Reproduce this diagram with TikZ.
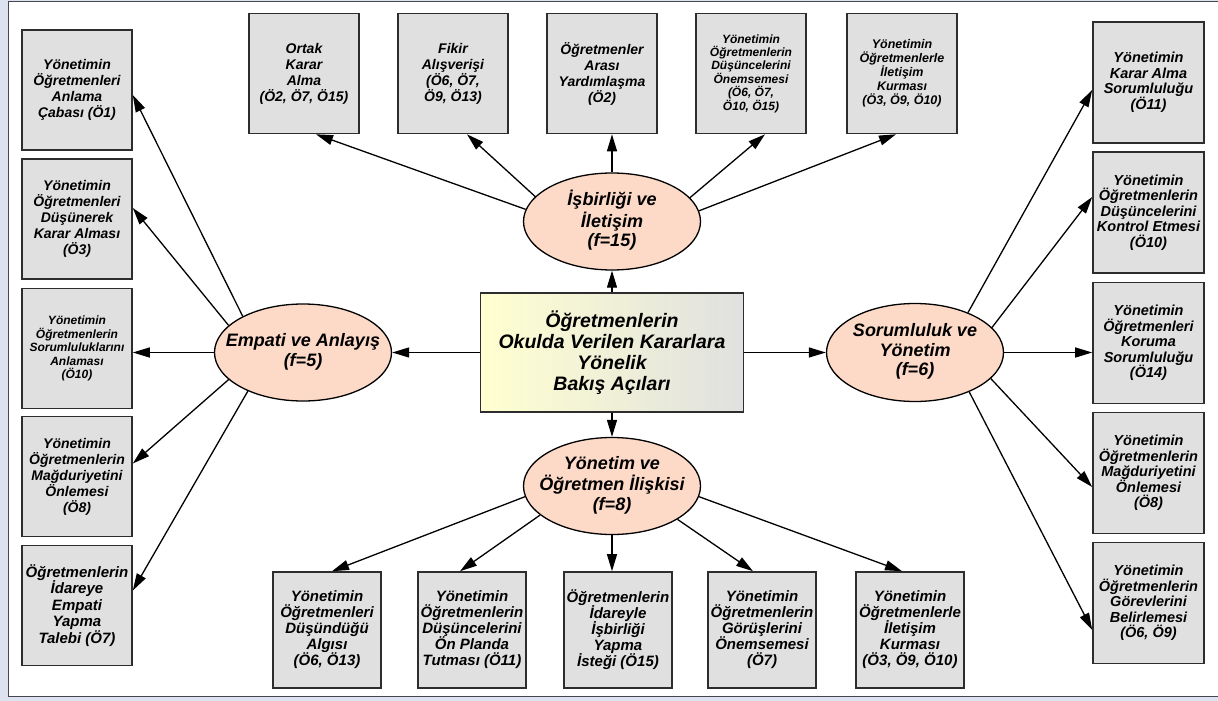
\documentclass[tikz,border=0pt]{standalone}
\usepackage{fontspec}
\setmainfont{Liberation Sans}
\usetikzlibrary{arrows.meta,shapes.geometric}
\definecolor{framebg}{RGB}{221,226,240}
\definecolor{frameline}{RGB}{70,70,80}
\definecolor{boxfill}{RGB}{224,224,224}
\definecolor{boxline}{RGB}{45,45,45}
\definecolor{peach}{RGB}{253,218,200}
\definecolor{centerL}{RGB}{255,255,208}
\definecolor{centerR}{RGB}{224,224,224}
\newcommand{\fs}[2]{\fontsize{#1}{#2}\selectfont}
% centred lines in a zero-width box, so that the ellipse keeps its set size
\newcommand{\etext}[1]{\makebox[0pt]{\begin{tabular}{@{}c@{}}#1\end{tabular}}}
\begin{document}
\begin{tikzpicture}[x=1pt,y=-1pt,
  box/.style={draw=boxline, line width=1.6pt, fill=boxfill, minimum width=110pt,
    minimum height=120pt, inner sep=0pt, align=center,
    font=\bfseries\itshape\fs{14}{16}},
  bbox/.style={box, minimum width=108pt, minimum height=116pt, font=\bfseries\itshape\fs{15}{16}},
  rbox/.style={box, minimum width=111pt, minimum height=121pt, font=\bfseries\itshape\fs{14.5}{15.5}},
  theme/.style={ellipse, draw=black, line width=1.3pt, fill=peach, minimum width=177pt,
    minimum height=97pt, inner sep=0pt, font=\bfseries\itshape\fs{18}{19.5}},
  mainbox/.style={draw=boxline, line width=1.6pt, left color=centerL, right color=centerR,
    minimum width=263pt, minimum height=119pt, inner sep=0pt, align=center,
    font=\bfseries\itshape\fs{19.5}{21}},
  arr/.style={line width=1.3pt, -{Triangle[length=17pt,width=10pt]}}
]
\useasboundingbox (0,0) rectangle (1218,701);
% page frame
\fill[framebg] (0,0) rectangle (1218,701);
\fill[white] (8.5,1.5) rectangle (1218,696.5);
\draw[frameline, line width=1.2pt] (1218,1.5) -- (8.5,1.5) -- (8.5,696.5) -- (1218,696.5);

% central topic
\node[mainbox] (C) at (612,352.5) {Öğretmenlerin\\Okulda Verilen Kararlara\\Yönelik\\Bakış Açıları};

% themes
\node[theme] (T) at (612,221.5) {\etext{İşbirliği ve\\İletişim\\(f=15)}};
\node[theme] (E) at (303,352.5) {\etext{Empati ve Anlayış\\(f=5)}};
\node[theme, minimum height=98pt] (S) at (915,352.5) {\etext{Sorumluluk ve\\Yönetim\\(f=6)}};
\node[theme] (Y) at (612,486) {\etext{Yönetim ve\\Öğretmen İlişkisi\\(f=8)}};

% left column
\node[box] (L1) at (77,90) {Yönetimin\\Öğretmenleri\\Anlama\\Çabası (Ö1)};
\node[box] (L2) at (77,219) {Yönetimin\\Öğretmenleri\\Düşünerek\\Karar Alması\\(Ö3)};
\node[box, font=\bfseries\itshape\fs{12}{13.5}] (L3) at (77,348.5) {Yönetimin\\Öğretmenlerin\\Sorumluluklarını\\Anlaması\\(Ö10)};
\node[box] (L4) at (77,476.5) {Yönetimin\\Öğretmenlerin\\Mağduriyetini\\Önlemesi\\(Ö8)};
\node[box, font=\bfseries\itshape\fs{15}{16.5}] (L5) at (77,605.5) {Öğretmenlerin\\İdareye\\Empati\\Yapma\\Talebi (Ö7)};

% top row
\node[box] (T1) at (304,73.5) {Ortak\\Karar\\Alma\\(Ö2, Ö7, Ö15)};
\node[box] (T2) at (453,73.5) {Fikir\\Alışverişi\\(Ö6, Ö7,\\Ö9, Ö13)};
\node[box] (T3) at (602,73.5) {Öğretmenler\\Arası\\Yardımlaşma\\(Ö2)};
\node[box, font=\bfseries\itshape\fs{12}{13.4}] (T4) at (751,73.5) {Yönetimin\\Öğretmenlerin\\Düşüncelerini\\Önemsemesi\\(Ö6, Ö7,\\Ö10, Ö15)};
\node[box, font=\bfseries\itshape\fs{12.5}{14}] (T5) at (902,73.5) {Yönetimin\\Öğretmenlerle\\İletişim\\Kurması\\(Ö3, Ö9, Ö10)};

% right column
\node[rbox] (R1) at (1148.5,82.5) {Yönetimin\\Karar Alma\\Sorumluluğu\\(Ö11)};
\node[rbox] (R2) at (1148.5,212.5) {Yönetimin\\Öğretmenlerin\\Düşüncelerini\\Kontrol Etmesi\\(Ö10)};
\node[rbox] (R3) at (1148.5,343) {Yönetimin\\Öğretmenleri\\Koruma\\Sorumluluğu\\(Ö14)};
\node[rbox] (R4) at (1148.5,473) {Yönetimin\\Öğretmenlerin\\Mağduriyetini\\Önlemesi\\(Ö8)};
\node[rbox] (R5) at (1148.5,603) {Yönetimin\\Öğretmenlerin\\Görevlerini\\Belirlemesi\\(Ö6, Ö9)};

% bottom row
\node[bbox] (B1) at (327,630) {Yönetimin\\Öğretmenleri\\Düşündüğü\\Algısı\\(Ö6, Ö13)};
\node[bbox] (B2) at (472,630) {Yönetimin\\Öğretmenlerin\\Düşüncelerini\\Ön Planda\\Tutması (Ö11)};
\node[bbox] (B3) at (618,630) {Öğretmenlerin\\İdareyle\\İşbirliği\\Yapma\\İsteği (Ö15)};
\node[bbox] (B4) at (762,630) {Yönetimin\\Öğretmenlerin\\Görüşlerini\\Önemsemesi\\(Ö7)};
\node[bbox] (B5) at (910,630) {Yönetimin\\Öğretmenlerle\\İletişim\\Kurması\\(Ö3, Ö9, Ö10)};

% centre to themes
\draw[arr] (C.north) -- (T.south);
\draw[arr] (C.south) -- (Y.north);
\draw[arr] (C.west) -- (E.east);
\draw[arr] (C.east) -- (S.west);

% empathy branch
\draw[arr] (E.149) -- ([yshift=-5pt]L1.east);
\draw[arr] (E.160) -- ([yshift=11pt]L2.east);
\draw[arr] (E.west) -- (E.west -| L3.east);
\draw[arr] (E.200) -- ([yshift=13pt]L4.east);
\draw[arr] (E.215) -- ([yshift=15pt]L5.east);

% cooperation branch
\draw[arr] (T.172) -- ([xshift=12pt]T1.south);
\draw[arr] (T.162) -- ([xshift=14pt]T2.south);
\draw[arr] (T.north) -- (T.north |- T3.south);
\draw[arr] (T.17) -- ([xshift=14pt]T4.south);
\draw[arr] (T.7) -- ([xshift=-6pt]T5.south);

% responsibility branch
\draw[arr] (S.37) -- ([yshift=-7.5pt]R1.west);
\draw[arr] (S.18) -- ([yshift=15.5pt]R2.west);
\draw[arr] (S.east) -- (S.east -| R3.west);
\draw[arr] (S.341) -- ([yshift=-14pt]R4.west);
\draw[arr] (S.324) -- ([yshift=-27pt]R5.west);

% management branch
\draw[arr] (Y.187) -- ([xshift=5pt]B1.north);
\draw[arr] (Y.202) -- ([xshift=-12pt]B2.north);
\draw[arr] (Y.south) -- (Y.south |- B3.north);
\draw[arr] (Y.333) -- ([xshift=-9pt]B4.north);
\draw[arr] (Y.353) -- ([xshift=-8pt]B5.north);
\end{tikzpicture}
\end{document}
